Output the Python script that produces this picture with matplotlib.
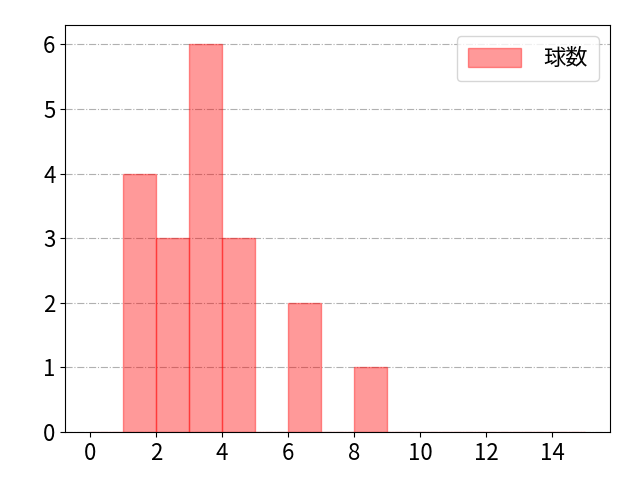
import numpy as np
import matplotlib
matplotlib.use('Agg')
import matplotlib.pyplot as plt

plt.rcParams['font.family'] = ['Noto Sans CJK JP', 'DejaVu Sans']
plt.rcParams['font.size'] = 16

# histogram bins (width 1) and counts
bin_edges = list(range(0, 16))
bin_left = [1, 2, 3, 4, 6, 8]
counts = [4, 3, 6, 3, 2, 1]

fig = plt.figure(figsize=(6.4, 4.8), dpi=100)
ax = fig.add_axes([0.102, 0.1, 0.851, 0.848])
ax.hist(bin_left, bins=bin_edges, weights=counts, color='red', alpha=0.4,
        edgecolor='red', label='球数')
ax.set_xticks(range(0, 16, 2))
ax.grid(axis='y', linestyle='-.', color='#b0b0b0')
ax.set_axisbelow(True)
ax.legend(loc='upper right', handlelength=2.4, handleheight=0.9,
          handletextpad=1.0, borderpad=0.5)
fig.savefig('out.png')
